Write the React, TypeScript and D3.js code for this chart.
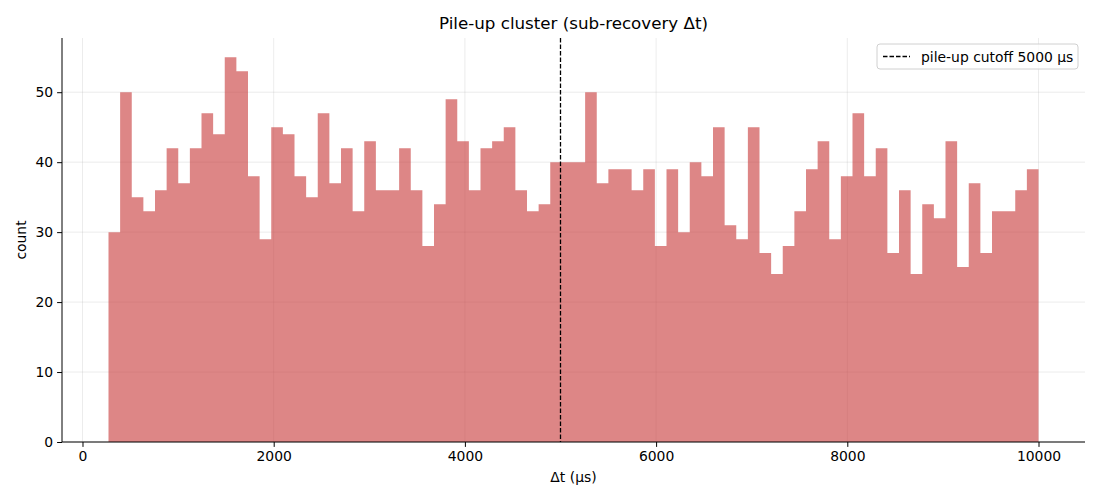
import { useEffect, useRef } from "react";
import * as d3 from "d3";

// histogram of sub-recovery Δt, 80 equal bins between the first and last edge
const BIN_FIRST = 272;
const BIN_LAST = 10000;
const COUNTS = [
  30, 50, 35, 33, 36, 42, 37, 42, 47, 44,
  55, 53, 38, 29, 45, 44, 38, 35, 47, 37,
  42, 33, 43, 36, 36, 42, 36, 28, 34, 49,
  43, 36, 42, 43, 45, 36, 33, 34, 40, 40,
  40, 50, 37, 39, 39, 36, 39, 28, 39, 30,
  40, 38, 45, 31, 29, 45, 27, 24, 28, 33,
  39, 43, 29, 38, 47, 38, 42, 27, 36, 24,
  34, 32, 43, 25, 37, 27, 33, 33, 36, 39,
];
const CUTOFF = 5000;
const X_TICKS = [0, 2000, 4000, 6000, 8000, 10000];
const Y_TICKS = [0, 10, 20, 30, 40, 50];

const W = 1100;
const H = 500;
const margin = { top: 38, right: 15, bottom: 58, left: 62 };
const FONT = "DejaVu Sans, sans-serif";
const FS = 13.9;

export default function App() {
  const svgRef = useRef<SVGSVGElement>(null);

  useEffect(() => {
    if (!svgRef.current) return;
    const svg = d3.select(svgRef.current);
    svg.selectAll("*").remove();

    const innerW = W - margin.left - margin.right;
    const innerH = H - margin.top - margin.bottom;
    const binW = (BIN_LAST - BIN_FIRST) / COUNTS.length;
    const pad = (BIN_LAST - BIN_FIRST) * 0.05;

    const x = d3
      .scaleLinear()
      .domain([BIN_FIRST - pad, BIN_LAST + pad])
      .range([0, innerW]);
    const maxC = d3.max(COUNTS)!;
    const y = d3.scaleLinear().domain([0, maxC * 1.05]).range([innerH, 0]);

    const g = svg
      .append("g")
      .attr("transform", `translate(${margin.left},${margin.top})`);

    // grid
    g.selectAll(".gx")
      .data(X_TICKS)
      .join("line")
      .attr("x1", (d) => x(d))
      .attr("x2", (d) => x(d))
      .attr("y1", 0)
      .attr("y2", innerH)
      .attr("stroke", "#b0b0b0")
      .attr("stroke-opacity", 0.3)
      .attr("stroke-width", 0.8);
    g.selectAll(".gy")
      .data(Y_TICKS)
      .join("line")
      .attr("x1", 0)
      .attr("x2", innerW)
      .attr("y1", (d) => y(d))
      .attr("y2", (d) => y(d))
      .attr("stroke", "#b0b0b0")
      .attr("stroke-opacity", 0.3)
      .attr("stroke-width", 0.8);

    // bars (as one path so neighbouring bins do not overlap at the seams)
    const edge = (i: number) => x(BIN_FIRST + i * binW);
    const path = d3.path();
    path.moveTo(edge(0), innerH);
    COUNTS.forEach((c, i) => {
      path.lineTo(edge(i), y(c));
      path.lineTo(edge(i + 1), y(c));
    });
    path.lineTo(edge(COUNTS.length), innerH);
    path.closePath();
    g.append("path")
      .attr("d", path.toString())
      .attr("fill", "#c83c3c")
      .attr("fill-opacity", 0.62);

    // cutoff
    g.append("line")
      .attr("x1", x(CUTOFF))
      .attr("x2", x(CUTOFF))
      .attr("y1", 0)
      .attr("y2", innerH)
      .attr("stroke", "#000")
      .attr("stroke-width", 1.3)
      .attr("stroke-dasharray", "4.5,2");

    // axes
    const xAxis = g
      .append("g")
      .attr("transform", `translate(0,${innerH})`)
      .call(d3.axisBottom(x).tickValues(X_TICKS).tickSize(4.9).tickPadding(4).tickFormat(d3.format("d")));
    const yAxis = g
      .append("g")
      .call(d3.axisLeft(y).tickValues(Y_TICKS).tickSize(4.9).tickPadding(4).tickFormat(d3.format("d")));
    [xAxis, yAxis].forEach((a) => {
      a.selectAll("text").attr("font-family", FONT).attr("font-size", FS).attr("fill", "#000");
      a.selectAll("line").attr("stroke", "#000").attr("stroke-width", 1);
      a.select(".domain").attr("stroke", "#000").attr("stroke-width", 1);
    });
    xAxis.select(".domain").attr("d", `M0,0H${innerW}`);
    yAxis.select(".domain").attr("d", `M0,0V${innerH}`);

    // labels
    svg
      .append("text")
      .attr("x", margin.left + innerW / 2)
      .attr("y", 29)
      .attr("text-anchor", "middle")
      .attr("font-family", FONT)
      .attr("font-size", 16.7)
      .text("Pile-up cluster (sub-recovery Δt)");
    svg
      .append("text")
      .attr("x", margin.left + innerW / 2)
      .attr("y", 482)
      .attr("text-anchor", "middle")
      .attr("font-family", FONT)
      .attr("font-size", FS)
      .text("Δt (μs)");
    svg
      .append("text")
      .attr("transform", `translate(26,${margin.top + innerH / 2}) rotate(-90)`)
      .attr("text-anchor", "middle")
      .attr("font-family", FONT)
      .attr("font-size", FS)
      .text("count");

    // legend
    const lg = svg.append("g").attr("transform", "translate(877,44)");
    lg.append("rect")
      .attr("width", 201)
      .attr("height", 25)
      .attr("rx", 3)
      .attr("fill", "#fff")
      .attr("fill-opacity", 0.8)
      .attr("stroke", "#d0d0d0");
    lg.append("line")
      .attr("x1", 6)
      .attr("x2", 33)
      .attr("y1", 12.5)
      .attr("y2", 12.5)
      .attr("stroke", "#000")
      .attr("stroke-width", 1.3)
      .attr("stroke-dasharray", "4.5,2");
    lg.append("text")
      .attr("x", 44)
      .attr("y", 17.5)
      .attr("font-family", FONT)
      .attr("font-size", FS)
      .text(`pile-up cutoff ${CUTOFF} μs`);
  }, []);

  return <svg ref={svgRef} width={W} height={H} style={{ display: "block", margin: -8 }} />;
}
